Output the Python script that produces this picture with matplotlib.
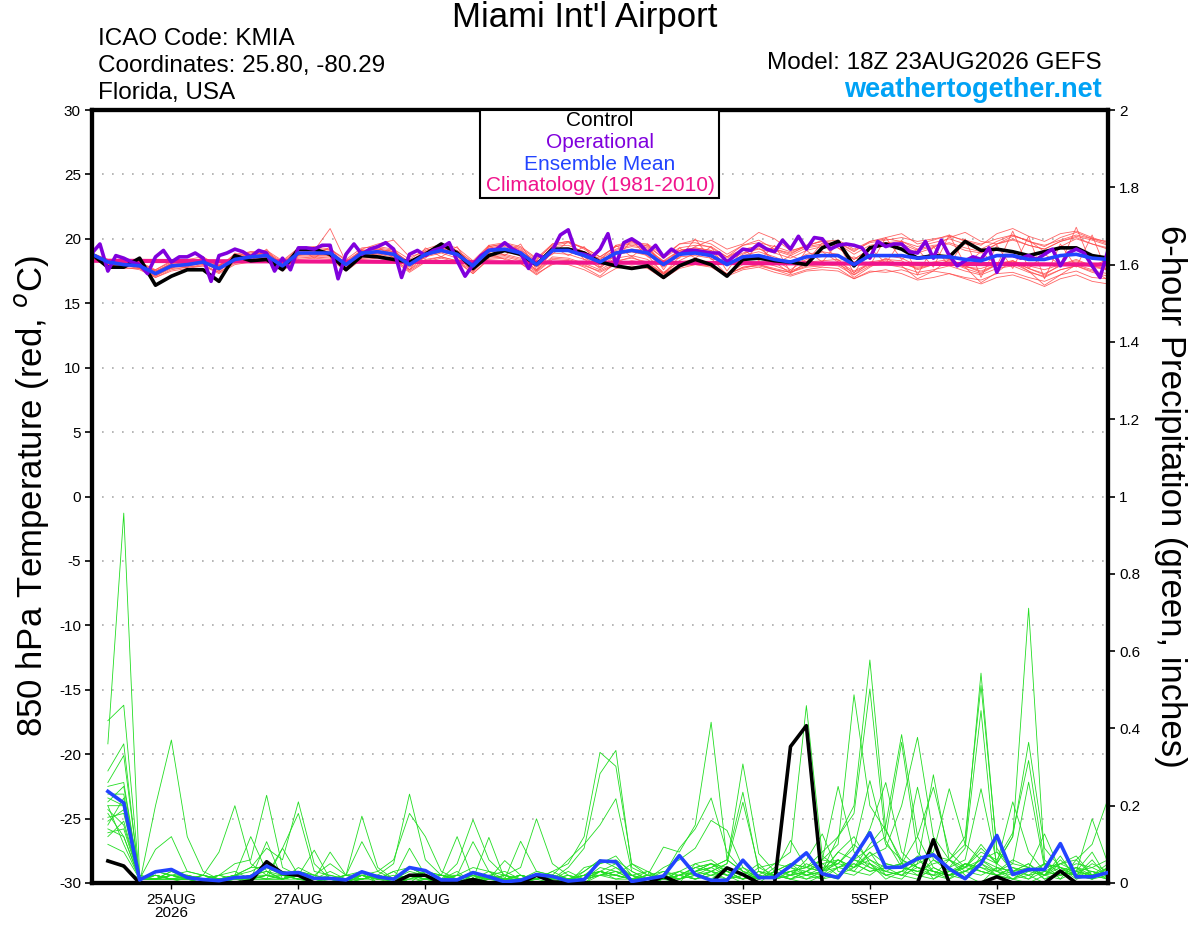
import numpy as np
import matplotlib
matplotlib.use('Agg')
import matplotlib.pyplot as plt
from matplotlib.patches import Rectangle

plt.rcParams['font.family'] = ['Liberation Sans', 'DejaVu Sans']

# forecast hours after 18Z 23AUG2026
STEP_HOURS = 6
OPER_STEP_HOURS = 3
CLIM_STEP_HOURS = 24
TICK_HOURS = [30, 78, 126, 198, 246, 294, 342]
TICK_LABELS = ['25AUG\n2026', '27AUG', '29AUG', '1SEP', '3SEP', '5SEP', '7SEP']

# 850 hPa temperature (deg C), every 6 h from hour 0
control_temp = [
    18.8, 17.8, 17.8, 18.5, 16.4, 17.1, 17.6, 17.6, 16.7, 18.7, 18.3, 18.4, 17.6,
    19.2, 19.2, 18.8, 17.6, 18.7, 18.6, 18.4, 18.2, 18.8, 19.6, 18.9, 17.7, 18.7,
    19.1, 18.8, 18.0, 19.2, 19.2, 18.9, 18.2, 17.9, 17.7, 17.9, 17.0, 17.9, 18.4,
    18.0, 17.1, 18.4, 18.5, 18.3, 18.2, 18.0, 19.3, 19.8, 17.9, 19.3, 19.6, 19.2,
    18.5, 18.7, 18.6, 19.8, 19.1, 19.2, 19.0, 18.7, 19.0, 19.3, 19.3, 18.7, 18.5]
mean_temp = [
    18.8, 18.2, 18.0, 17.9, 17.3, 17.9, 18.0, 18.2, 17.7, 18.4, 18.6, 18.7, 17.9,
    18.9, 18.9, 18.9, 18.0, 18.9, 19.0, 18.8, 18.0, 18.8, 19.1, 18.8, 17.9, 19.1,
    19.2, 18.9, 18.0, 19.1, 19.1, 18.7, 18.2, 18.9, 19.1, 18.9, 18.0, 18.8, 18.9,
    18.7, 18.0, 18.6, 18.7, 18.4, 18.2, 18.6, 18.7, 18.7, 18.0, 18.7, 18.7, 18.7,
    18.5, 18.6, 18.6, 18.4, 18.3, 18.7, 18.7, 18.4, 18.4, 18.7, 18.8, 18.5, 18.4]
# operational run, every 3 h
oper_temp = [
    18.9, 19.6, 17.5, 18.7, 18.5, 18.2, 18.0, 17.3, 18.6, 19.1, 18.2, 18.6, 18.6,
    18.9, 18.5, 16.7, 18.7, 18.9, 19.2, 19.0, 18.6, 19.1, 18.9, 17.5, 18.5, 17.6,
    19.3, 19.3, 19.2, 19.5, 19.5, 16.9, 18.8, 19.6, 18.8, 19.2, 19.4, 19.7, 19.2,
    17.0, 18.8, 19.1, 18.7, 19.1, 19.3, 19.7, 18.3, 17.1, 18.0, 18.7, 19.1, 19.2,
    19.7, 19.2, 18.9, 17.7, 18.8, 18.5, 19.1, 20.3, 20.7, 18.9, 18.8, 18.6, 19.2,
    20.4, 18.0, 19.7, 20.0, 19.6, 18.9, 19.5, 18.6, 19.2, 18.8, 19.1, 19.1, 19.0,
    18.9, 18.9, 18.2, 18.7, 19.2, 19.1, 19.6, 19.2, 19.0, 19.9, 19.2, 20.2, 19.2,
    20.1, 20.0, 19.2, 19.5, 19.6, 19.5, 19.3, 18.5, 19.8, 19.4, 19.6, 19.6, 19.0,
    18.9, 19.8, 18.5, 19.9, 18.7, 17.9, 18.3, 18.6, 18.4, 19.3, 17.4, 18.7, 18.7,
    18.5, 18.7, 18.4, 18.8, 19.2, 17.9, 18.9, 19.2, 18.9, 17.9, 17.0, 19.1]
# climatology, daily
clim_temp = [18.30, 18.28, 18.26, 18.25, 18.23, 18.21, 18.19, 18.17, 18.15,
             18.14, 18.12, 18.10, 18.08, 18.06, 18.04, 18.02, 18.00]

member_temps = [
    [18.9, 18.4, 18.3, 18.2, 17.6, 18.2, 18.4, 18.6, 17.9, 18.8, 19.0, 19.1, 18.3,
     19.3, 19.4, 19.2, 18.4, 19.3, 19.4, 19.2, 18.4, 19.2, 19.6, 19.3, 18.3, 19.5,
     19.7, 19.4, 18.5, 19.6, 19.8, 19.3, 18.6, 19.4, 19.6, 19.5, 18.5, 19.3, 19.5,
     19.4, 18.6, 19.2, 19.4, 19.1, 18.7, 19.3, 19.5, 19.6, 18.8, 19.5, 19.7, 19.8,
     19.2, 19.5, 19.6, 19.1, 18.9, 19.6, 19.9, 19.5, 19.2, 19.8, 20.1, 19.6, 19.3],
    [18.7, 18.0, 17.8, 17.6, 17.0, 17.5, 17.7, 17.9, 17.3, 18.0, 18.2, 18.3, 17.5,
     18.4, 18.5, 18.4, 17.5, 18.4, 18.5, 18.3, 17.4, 18.2, 18.5, 18.2, 17.3, 18.5,
     18.6, 18.3, 17.4, 18.4, 18.3, 17.9, 17.5, 18.1, 18.2, 18.0, 17.2, 17.9, 18.0,
     17.8, 17.1, 17.6, 17.8, 17.4, 17.1, 17.5, 17.6, 17.5, 16.9, 17.5, 17.4, 17.6,
     17.2, 17.5, 17.3, 17.0, 16.8, 17.3, 17.4, 17.0, 16.7, 17.2, 17.5, 17.0, 16.9],
    [18.8, 18.3, 18.1, 18.0, 17.4, 18.1, 18.2, 18.5, 17.9, 18.7, 18.9, 19.0, 18.2,
     19.2, 19.3, 19.1, 18.1, 19.0, 19.3, 19.1, 18.1, 18.9, 19.3, 19.0, 18.0, 19.3,
     19.5, 19.2, 18.1, 19.4, 19.5, 19.0, 18.4, 19.2, 19.5, 19.3, 18.2, 19.1, 19.3,
     19.1, 18.3, 18.9, 19.2, 18.9, 18.5, 19.1, 19.4, 19.3, 18.4, 19.2, 19.5, 19.6,
     19.1, 19.4, 19.7, 19.3, 19.0, 19.6, 20.0, 19.5, 19.2, 19.8, 20.2, 19.9, 19.5],
    [18.7, 18.1, 17.9, 17.8, 17.2, 17.8, 17.9, 18.1, 17.6, 18.3, 18.5, 18.6, 17.8,
     18.8, 18.7, 18.7, 17.8, 18.7, 18.8, 18.6, 17.8, 18.6, 18.9, 18.5, 17.6, 18.7,
     18.8, 18.5, 17.6, 18.6, 18.5, 18.1, 17.6, 18.3, 18.5, 18.2, 17.3, 18.0, 18.1,
     17.9, 17.2, 17.8, 17.9, 17.6, 17.4, 17.9, 18.0, 17.9, 17.2, 17.9, 18.0, 17.8,
     17.4, 17.6, 17.9, 17.5, 17.2, 17.7, 17.9, 17.4, 17.1, 17.6, 17.9, 17.5, 17.3],
    [18.8, 18.4, 17.9, 18.2, 17.5, 17.7, 18.3, 18.0, 17.9, 18.6, 19.0, 18.5, 18.2,
     18.7, 19.3, 18.6, 18.3, 18.7, 19.4, 18.5, 18.2, 18.5, 19.6, 18.6, 18.1, 18.9,
     19.7, 18.6, 18.2, 18.8, 19.8, 18.4, 18.6, 18.4, 19.9, 18.6, 18.3, 18.5, 20.0,
     18.4, 18.4, 18.1, 19.6, 18.0, 18.7, 18.2, 19.7, 18.3, 18.6, 17.9, 20.1, 18.4,
     19.2, 17.8, 20.3, 18.0, 19.0, 17.9, 20.6, 17.7, 18.8, 18.0, 20.9, 17.9, 18.4],
    [18.9, 18.3, 18.2, 17.9, 17.5, 18.0, 18.1, 18.4, 18.0, 18.5, 18.8, 18.9, 18.1,
     19.1, 19.0, 19.2, 18.3, 19.1, 19.2, 19.0, 18.2, 19.0, 19.4, 19.1, 18.1, 19.4,
     19.6, 19.1, 18.3, 19.6, 19.8, 19.2, 18.4, 19.5, 19.8, 19.4, 18.5, 19.6, 19.7,
     19.3, 18.6, 19.5, 19.9, 19.2, 18.8, 19.5, 19.8, 19.7, 19.0, 19.8, 20.1, 20.4,
     19.6, 19.9, 20.3, 19.8, 19.5, 20.4, 20.8, 20.2, 19.8, 20.4, 20.6, 20.1, 19.7],
    [18.6, 18.0, 17.7, 17.7, 17.0, 17.6, 17.8, 17.9, 17.4, 18.1, 18.3, 18.4, 17.6,
     18.5, 18.6, 18.5, 17.6, 18.5, 18.6, 18.4, 17.6, 18.4, 18.6, 18.3, 17.5, 18.6,
     18.7, 18.4, 17.5, 18.5, 18.4, 18.0, 17.4, 18.0, 18.3, 18.1, 17.3, 17.8, 18.2,
     18.0, 17.3, 17.7, 18.0, 17.7, 17.4, 17.8, 17.9, 18.2, 17.5, 18.1, 18.3, 18.0,
     17.8, 18.0, 18.2, 17.8, 17.7, 18.1, 18.3, 17.9, 17.6, 18.0, 18.3, 17.9, 17.7],
    [18.7, 18.0, 18.4, 17.7, 17.6, 18.3, 17.8, 18.6, 17.5, 18.9, 18.3, 19.2, 17.7,
     19.3, 18.5, 19.4, 17.7, 19.2, 18.6, 19.3, 17.6, 19.3, 18.6, 19.4, 17.5, 19.5,
     18.7, 19.6, 17.6, 19.4, 18.7, 19.4, 17.8, 19.5, 18.6, 19.6, 17.6, 19.3, 18.5,
     19.4, 17.5, 19.2, 18.3, 19.5, 17.4, 19.1, 18.2, 19.7, 17.3, 19.3, 18.1, 19.9,
     17.2, 19.4, 17.9, 20.0, 17.0, 19.5, 17.7, 20.2, 16.9, 19.6, 17.8, 20.3, 17.2],
    [18.8, 18.1, 18.0, 17.9, 17.3, 17.8, 18.0, 18.2, 17.6, 18.3, 18.5, 18.6, 17.8,
     18.8, 18.8, 18.8, 17.9, 18.8, 18.9, 18.7, 17.9, 18.7, 19.0, 18.7, 17.8, 19.0,
     19.0, 18.7, 17.8, 18.9, 18.8, 18.4, 17.8, 18.5, 18.7, 18.4, 17.4, 18.2, 18.4,
     18.0, 17.2, 17.8, 18.0, 17.6, 17.2, 17.6, 17.8, 17.7, 16.9, 17.4, 17.6, 17.3,
     16.8, 17.0, 17.3, 16.9, 16.5, 17.0, 17.2, 16.8, 16.3, 16.9, 17.2, 16.7, 16.5],
    [18.8, 18.2, 18.1, 18.0, 17.3, 17.9, 18.0, 18.3, 17.8, 18.4, 18.6, 18.7, 17.9,
     18.9, 19.0, 18.9, 18.0, 18.9, 19.0, 18.8, 18.0, 18.8, 19.1, 18.8, 17.9, 19.1,
     19.2, 18.9, 18.0, 19.1, 19.2, 18.8, 18.2, 19.0, 19.2, 19.1, 18.3, 19.1, 19.3,
     19.1, 18.5, 19.2, 19.4, 19.2, 18.9, 19.4, 19.6, 19.7, 19.1, 19.7, 19.9, 20.1,
     19.8, 20.0, 20.2, 19.9, 19.6, 20.0, 20.3, 19.8, 19.5, 19.9, 20.3, 20.0, 19.8],
    [18.7, 18.2, 17.9, 17.8, 17.2, 17.8, 17.9, 18.1, 17.6, 18.3, 18.6, 18.6, 17.8,
     18.7, 18.8, 18.8, 17.9, 18.8, 18.9, 18.8, 17.9, 18.7, 19.0, 18.8, 17.8, 18.9,
     18.4, 18.1, 17.3, 18.0, 18.3, 17.8, 17.1, 18.2, 18.6, 18.0, 17.3, 18.3, 18.9,
     18.6, 17.9, 18.8, 19.3, 18.4, 17.6, 18.4, 19.0, 18.2, 17.0, 17.8, 18.5, 17.9,
     16.9, 17.5, 18.4, 17.8, 16.6, 17.4, 18.3, 17.5, 16.4, 17.2, 18.0, 17.6, 16.8],
    [18.8, 18.2, 18.0, 17.8, 17.1, 17.8, 18.0, 18.2, 17.5, 18.4, 18.6, 18.7, 17.7,
     18.9, 18.8, 18.9, 17.7, 18.8, 18.9, 18.7, 17.6, 18.7, 19.0, 18.7, 17.4, 19.0,
     19.1, 18.8, 17.5, 19.0, 19.1, 18.6, 17.7, 18.8, 19.0, 18.7, 17.3, 18.6, 18.7,
     18.5, 17.2, 18.3, 18.5, 18.2, 17.3, 18.2, 18.3, 18.4, 17.2, 18.2, 18.4, 18.3,
     17.6, 18.0, 18.2, 17.7, 17.3, 18.0, 18.3, 17.7, 17.2, 18.0, 18.4, 17.9, 17.6],
    [18.9, 18.3, 18.2, 18.0, 17.5, 18.1, 18.2, 18.4, 17.9, 18.6, 18.8, 18.9, 18.1,
     19.1, 19.1, 20.8, 18.2, 19.1, 19.2, 19.0, 18.2, 19.1, 19.4, 19.1, 18.2, 19.4,
     19.6, 19.3, 18.4, 19.5, 19.7, 19.3, 18.6, 19.4, 19.7, 19.6, 18.7, 19.6, 19.9,
     19.6, 18.8, 19.5, 19.7, 19.4, 19.0, 19.5, 19.8, 19.9, 19.2, 19.8, 20.0, 19.8,
     19.4, 19.7, 20.0, 19.6, 19.2, 19.8, 20.3, 19.8, 19.4, 20.1, 20.5, 20.0, 19.6],
    [18.7, 18.1, 17.9, 17.7, 17.1, 17.7, 17.8, 18.0, 17.4, 18.2, 18.4, 18.5, 17.6,
     18.6, 18.6, 18.6, 17.6, 18.5, 18.6, 18.4, 17.5, 18.3, 18.6, 18.3, 17.3, 18.4,
     18.5, 18.1, 17.2, 18.1, 18.0, 17.6, 17.0, 17.7, 17.9, 17.7, 16.9, 17.7, 18.0,
     17.9, 17.3, 18.0, 18.2, 17.9, 17.5, 18.0, 18.2, 18.0, 17.4, 18.0, 18.2, 18.1,
     17.7, 18.0, 18.3, 17.9, 17.5, 18.0, 18.2, 17.7, 17.3, 17.9, 18.2, 17.8, 17.6],
    [18.8, 18.2, 18.0, 17.9, 17.4, 17.9, 18.0, 18.2, 17.7, 18.4, 18.7, 18.7, 17.9,
     18.9, 19.0, 18.9, 18.0, 19.2, 19.6, 19.9, 18.6, 19.0, 19.3, 18.8, 17.9, 19.0,
     19.1, 18.8, 17.9, 19.0, 19.1, 18.7, 18.0, 18.8, 19.0, 18.8, 17.8, 18.7, 19.4,
     19.9, 19.2, 19.6, 20.5, 20.0, 19.1, 19.4, 19.9, 19.3, 18.4, 19.2, 19.7, 19.5,
     18.9, 19.3, 20.1, 20.5, 19.8, 19.6, 20.2, 19.9, 19.0, 19.4, 20.0, 19.6, 19.2],
    [18.8, 18.2, 18.1, 17.9, 17.3, 18.0, 18.1, 18.3, 17.8, 18.5, 18.7, 18.8, 18.0,
     19.0, 19.1, 19.0, 18.1, 19.0, 19.1, 18.9, 18.0, 18.9, 19.2, 18.9, 17.9, 19.2,
     19.4, 19.0, 18.0, 19.2, 19.3, 19.0, 18.2, 19.1, 19.4, 19.2, 18.1, 19.0, 19.2,
     19.0, 18.0, 18.7, 19.0, 18.6, 18.1, 18.8, 19.0, 18.8, 17.9, 18.6, 18.7, 18.5,
     17.9, 18.2, 18.4, 17.9, 17.4, 18.0, 18.1, 17.5, 17.0, 17.6, 17.9, 17.4, 17.1],
]

# 6-hour precipitation (inches), hours 6..384
control_precip = [
    .057, .044, 0, 0, 0, 0, 0, 0, 0, .005, .055, .025, .02, 0, 0, 0,
    0, 0, 0, .02, .02, 0, 0, .009, 0, 0, 0, .02, .003, 0, 0, 0,
    0, 0, 0, .017, 0, 0, 0, .039, .022, 0, 0, .353, .407, 0, 0, 0,
    0, 0, 0, 0, .112, 0, 0, 0, .016, 0, 0, 0, .031, 0, 0, 0]
mean_precip = [
    .237, .207, .008, .029, .035, .014, .009, .006, .014, .016, .044, .025, .027, .012, .012, .008,
    .029, .016, .010, .040, .032, .008, .008, .027, .016, .003, .007, .022, .017, .005, .009, .057,
    .055, .004, .011, .018, .071, .022, .007, .007, .059, .014, .014, .044, .078, .024, .014, .067,
    .130, .040, .041, .063, .073, .037, .011, .050, .123, .022, .035, .035, .102, .016, .016, .027]
member_precips = [
    [.36, .957, .02, .01, .03, .01, 0, 0, .02, .03, .05, .02, .01, 0, 0, 0,
     .02, .01, 0, .04, .02, 0, 0, .01, .03, 0, 0, .02, .01, 0, .03, .06,
     .04, .01, 0, .02, .01, .03, .05, .02, 0, 0, .03, .01, 0, .02, .06, .03,
     .08, .02, .01, .05, .28, .06, .02, 0, .04, .01, 0, .02, .07, .01, .02, .05],
    [.42, .46, .01, .02, .01, 0, 0, .01, .02, .01, .04, .03, .02, .01, 0, 0,
     .01, .02, .01, 0, .03, .01, 0, 0, .02, .01, .01, .03, .02, 0, .01, .04,
     .03, .02, 0, .01, 0, .05, .03, .01, .02, .01, .04, .02, .06, .127, .03, .02,
     .05, .01, .03, .02, .06, .04, .09, .446, .03, .01, .02, 0, .03, .02, .01, .03],
    [.29, .36, 0, .2, .37, .12, .03, .01, 0, .02, .03, .01, .02, 0, .01, 0,
     .03, 0, .01, .02, 0, 0, .01, .02, 0, .01, .02, 0, .01, .02, 0, .03,
     .02, .01, .03, 0, .01, .02, .04, .06, .235, .03, .01, .02, .01, .03, .08, .12,
     .05, .02, .03, .07, .01, .03, .04, .1, .05, .12, .711, .06, .02, .03, .08, .01],
    [.26, .33, .01, .01, .02, .03, .02, .08, .20, .05, .02, .01, .03, .02, .01, 0,
     .02, .01, .03, 0, .01, .02, .01, 0, .02, .01, 0, .01, 0, .01, .02, .05,
     .07, .02, 0, .01, .03, .02, .01, .04, .02, .01, .03, .05, .02, .01, .04, .06,
     .09, .12, .364, .08, .03, .01, .05, .03, .02, .01, .04, .02, .06, .02, .01, .04],
    [.25, .26, .01, .03, .02, .01, 0, .02, .05, .06, .227, .04, .02, .01, 0, .01,
     .02, 0, .01, .02, .01, 0, .01, .03, 0, .01, .02, .01, .02, 0, .04, .05,
     .06, .03, .01, .02, .09, .14, .22, .08, .03, .01, .02, .04, .03, .01, .02, .05,
     .03, .04, .02, .06, .03, .02, .04, .08, .06, .13, .317, .05, .01, .06, .02, .03],
    [.23, .23, .02, .01, .03, .02, .01, 0, .02, .04, .09, .06, .21, .05, .01, 0,
     .01, .02, 0, .01, .02, .01, .03, 0, .01, .02, 0, .01, .02, .01, .01, .03,
     .05, .01, .02, .01, .03, .05, .06, .03, .01, .02, .01, .03, .04, .06, .25, .08,
     .04, .03, .05, .02, .01, .04, .06, .244, .05, .02, .01, .03, .02, .04, .01, .02],
    [.21, .25, .01, .02, .01, .01, .02, .01, 0, .01, .02, .09, .18, .03, .02, .01,
     .03, .01, .02, 0, .01, .01, 0, .02, .01, 0, .01, .02, 0, .01, .03, .06,
     .05, .02, .01, .04, .06, .09, .162, .136, .04, .02, .01, .02, .03, .05, .02, .04,
     .06, .03, .02, .01, .04, .02, .03, .06, .08, .05, .04, .127, .03, .02, .06, .01],
    [.2, .2, .01, .02, .01, .02, .01, 0, .01, .02, .03, .01, .04, .02, .05, .02,
     .173, .04, .01, .02, .01, 0, .02, .01, 0, .01, .02, .01, .02, .01, 0, .02,
     .03, .01, .02, .01, .02, .04, .05, .03, .02, .01, .02, .03, .04, .08, .12, .18,
     .502, .11, .04, .03, .02, .01, .03, .05, .02, .01, .03, .05, .04, .02, .03, .01],
    [.19, .15, .01, .01, .02, .01, .01, .02, .03, .01, .02, .01, .02, .01, .01, .02,
     .03, .02, .05, .23, .06, .02, .01, 0, .01, .02, .01, .01, .02, .01, .02, .03,
     .02, .01, .01, .02, .01, .03, .04, .06, .03, .02, .01, .05, .04, .03, .06, .04,
     .07, .09, .2, .377, .12, .06, .03, .02, .04, .03, .05, .01, .02, .03, .01, .04],
    [.17, .18, .01, .02, .01, .01, 0, .01, .02, .04, .04, .02, .01, .01, 0, .01,
     .02, .03, .06, .18, .12, .03, .01, .02, .01, .01, .02, .01, .02, .01, .01, .02,
     .04, .02, .01, .03, .02, .01, .03, .05, .209, .04, .02, .01, .03, .02, .01, .06,
     .05, .03, .02, .04, .03, .02, .01, .07, .05, .12, .364, .09, .04, .01, .03, .02],
    [.15, .22, .01, .03, .02, .01, .01, 0, .01, .02, .02, .01, .03, .02, .01, 0,
     .02, .01, .03, .04, .02, .01, .05, .164, .06, .02, .01, .02, .01, .03, .01, .02,
     .03, .01, .02, .01, .02, .04, .05, .03, .01, .02, .05, .04, .02, .03, .05, .09,
     .265, .1, .06, .04, .02, .03, .05, .04, .02, .03, .01, .05, .04, .03, .166, .05],
    [.14, .12, .01, .01, .02, .02, .01, .01, .02, .12, .03, .02, .01, .01, .03, .01,
     .02, .01, .01, .02, .01, .02, .02, .04, .03, .02, .04, .166, .05, .02, .01, .03,
     .02, .01, .01, .02, .03, .01, .02, .04, .02, .01, .03, .02, .05, .03, .04, .06,
     .14, .26, .08, .04, .03, .02, .05, .03, .02, .04, .02, .03, .05, .06, .1, .218],
    [.13, .14, .01, .02, .01, .01, .02, .01, .01, .02, .04, .03, .02, .01, .01, .02,
     .01, .02, .01, .03, .02, .01, .02, .01, .02, .01, .02, .01, .03, .05, .12, .338,
     .302, .05, .02, .01, .02, .03, .04, .02, .01, .03, .02, .01, .03, .05, .06, .04,
     .08, .05, .04, .03, .05, .06, .1, .543, .08, .03, .04, .02, .05, .03, .04, .02],
    [.2, .1, .01, .01, .01, .02, .01, .01, .02, .01, .01, .09, .02, .085, .01, .02,
     .01, .02, .01, .01, .03, .02, .01, .01, .02, .03, .01, .02, .01, .04, .09, .283,
     .343, .04, .02, .03, .01, .02, .03, .02, .04, .01, .02, .03, .01, .02, .04, .05,
     .03, .04, .05, .06, .08, .244, .1, .06, .04, .03, .02, .05, .03, .04, .02, .01],
    [.12, .16, .01, .01, .01, .01, .01, .02, .01, .01, .107, .01, .02, .01, .08, .02,
     .107, .03, .01, .02, .01, .02, .12, .01, .118, .01, .02, .01, .02, .06, .1, .15,
     .218, .03, .01, .02, .01, .03, .05, .04, .02, .01, .03, .05, .04, .06, .05, .04,
     .1, .15, .384, .12, .04, .02, .03, .05, .03, .02, .04, .01, .03, .02, .05, .03],
    [.1, .08, .01, .02, .01, .01, .01, .02, .01, .02, .01, .02, .01, .01, .02, .01,
     .01, .02, .01, .09, .02, .01, .02, .107, .03, .01, .01, .02, .01, .02, .01, .03,
     .02, .01, .02, .093, .08, .15, .416, .06, .03, .01, .02, .03, .02, .04, .05, .1,
     .06, .04, .05, .12, .248, .08, .04, .03, .02, .04, .03, .02, .01, .03, .02, .04],
    [.22, .2, .01, .087, .12, .03, .02, .01, .02, .01, .02, .01, .02, .01, .01, .01,
     .02, .01, .01, .02, .03, .02, .01, .02, .01, .058, .02, .01, .03, .01, .02, .03,
     .02, .05, .03, .01, .02, .04, .03, .05, .308, .076, .03, .11, .04, .03, .08, .06,
     .04, .02, .03, .05, .07, .06, .12, .511, .09, .03, .05, .02, .04, .03, .02, .01],
    [.18, .12, .01, .01, .02, .01, .02, .01, .01, .02, .01, .01, .02, .01, .01, .02,
     .02, .01, .01, .04, .02, .01, .01, .02, .01, .01, .108, .03, .02, .01, .02, .03,
     .01, .02, .03, .01, .02, .01, .02, .03, .01, .04, .05, .08, .459, .07, .04, .03,
     .02, .05, .04, .03, .02, .06, .04, .09, .05, .21, .08, .03, .02, .04, .03, .02],
    [.06, .04, .01, .01, .01, .01, .02, .01, .01, .01, .01, .01, .01, .01, .01, .01,
     .01, .01, .01, .02, .01, .01, .01, .02, .01, .01, .01, .02, .01, .01, .02, .02,
     .01, .01, .01, .02, .01, .03, .02, .01, .02, .05, .01, .02, .03, .06, .1, .487,
     .2, .136, .06, .04, .03, .02, .05, .04, .03, .06, .04, .02, .03, .05, .04, .06],
    [.16, .19, .01, .01, .02, .01, .01, .01, .01, .01, .02, .02, .01, .01, .01, .01,
     .01, .02, .01, .01, .01, .01, .02, .01, .01, .02, .01, .01, .02, .01, .01, .02,
     .02, .01, .01, .01, .02, .01, .03, .02, .01, .03, .02, .01, .02, .03, .12, .2,
     .577, .14, .05, .248, .06, .03, .04, .06, .03, .05, .261, .04, .05, .07, .02, .03],
]

RED = '#ff4a4a'
GREEN = '#22dd22'
PURPLE = '#8000dd'
BLUE = '#2244ff'
PINK = '#f0148c'

W, H = 1200, 927
fig = plt.figure(figsize=(W / 100, H / 100), dpi=100)
ax = fig.add_axes([92 / W, 1 - 883 / H, (1108 - 92) / W, (883 - 110) / H])
ax2 = ax.twinx()

hours = np.arange(len(control_temp)) * STEP_HOURS
oper_hours = np.arange(len(oper_temp)) * OPER_STEP_HOURS
clim_hours = np.arange(len(clim_temp)) * CLIM_STEP_HOURS
precip_hours = (np.arange(len(control_precip)) + 1) * STEP_HOURS

# temperature spaghetti
for m in member_temps:
    ax.plot(hours, m, color=RED, lw=0.6, alpha=0.85, zorder=2)
ax.plot(clim_hours, clim_temp, color=PINK, lw=3, zorder=3)
ax.plot(hours, control_temp, color='black', lw=2.6, zorder=4)
ax.plot(oper_hours, oper_temp, color=PURPLE, lw=2.6, zorder=5)
ax.plot(hours, mean_temp, color=BLUE, lw=2.6, zorder=6)

# precipitation spaghetti
for m in member_precips:
    ax2.plot(precip_hours, m, color=GREEN, lw=0.6, zorder=2)
ax2.plot(precip_hours, control_precip, color='black', lw=2.6, zorder=4)
ax2.plot(precip_hours, mean_precip, color=BLUE, lw=2.6, zorder=6)

ax.set_xlim(0, 384)
ax.set_ylim(-30, 30)
ax2.set_ylim(0, 2)

ax.set_yticks(np.arange(-30, 31, 5))
ax.set_yticklabels([str(v) for v in range(-30, 31, 5)])
ax2.set_yticks(np.arange(0, 2.01, 0.2))
ax2.set_yticklabels(['0', '0.2', '0.4', '0.6', '0.8', '1', '1.2', '1.4', '1.6', '1.8', '2'])
ax.set_xticks(TICK_HOURS)
ax.set_xticklabels(TICK_LABELS, linespacing=0.95)

for a in (ax, ax2):
    for s in a.spines.values():
        s.set_linewidth(3)
    a.tick_params(axis='y', length=5, width=1.2, labelsize=11, pad=3)
ax.tick_params(axis='x', length=4, width=1, labelsize=11, pad=3)

for v in range(-25, 30, 5):
    ax.axhline(v, color='#aaaaaa', lw=1.2, ls=(0, (1, 5)), zorder=1)

# titles and info
fig.text(585 / W, 1 - 18 / H, "Miami Int'l Airport", ha='center', va='center', fontsize=25)
fig.text(98 / W, 1 - 39 / H, 'ICAO Code: KMIA', ha='left', va='center', fontsize=17.5)
fig.text(98 / W, 1 - 66 / H, 'Coordinates: 25.80, -80.29', ha='left', va='center', fontsize=17.5)
fig.text(98 / W, 1 - 93 / H, 'Florida, USA', ha='left', va='center', fontsize=17.5)
fig.text(1102 / W, 1 - 63 / H, 'Model: 18Z 23AUG2026 GEFS', ha='right', va='center', fontsize=17.5)
fig.text(1102 / W, 1 - 90 / H, 'weathertogether.net', ha='right', va='center',
         fontsize=19.5, fontweight='bold', color='#00a2f5')

# legend box
fig.add_artist(Rectangle((480 / W, 1 - 198 / H), (719 - 480) / W, (198 - 110) / H,
                         transform=fig.transFigure, facecolor='white',
                         edgecolor='black', lw=1.5, zorder=10))
legend_items = [('Control', 'black'), ('Operational', PURPLE),
                ('Ensemble Mean', BLUE), ('Climatology (1981-2010)', PINK)]
for n, (label, col) in enumerate(legend_items):
    fig.text(600 / W, 1 - (121 + 21.5 * n) / H, label, ha='center', va='center',
             fontsize=15, color=col, zorder=11)

fig.text(32 / W, 1 - 496 / H, '850 hPa Temperature (red, $^o$C)', rotation=90,
         ha='center', va='center', fontsize=25)
fig.text(1170 / W, 1 - 496 / H, '6-hour Precipitation (green, inches)', rotation=270,
         ha='center', va='center', fontsize=25)

fig.savefig('out.png', dpi=100)
